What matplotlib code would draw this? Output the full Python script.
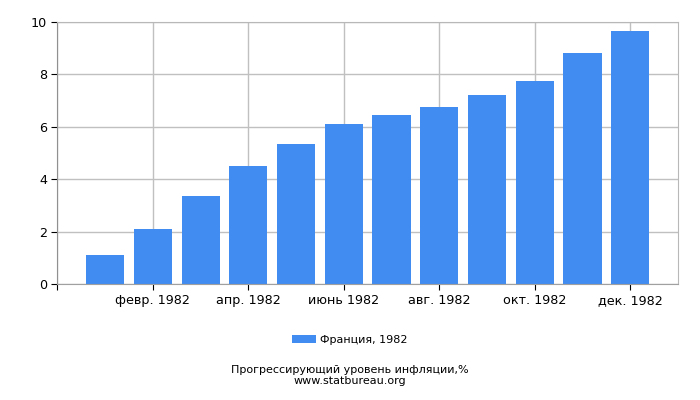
import numpy as np
import matplotlib
matplotlib.use("Agg")
from matplotlib import pyplot as plt

months = ["янв. 1982", "февр. 1982", "март 1982", "апр. 1982", "май 1982", "июнь 1982",
          "июль 1982", "авг. 1982", "сент. 1982", "окт. 1982", "нояб. 1982", "дек. 1982"]
values = [1.1, 2.1, 3.35, 4.5, 5.35, 6.1, 6.45, 6.75, 7.2, 7.75, 8.8, 9.65]
series_name = "Франция, 1982"
title = "Прогрессирующий уровень инфляции,%"
source = "www.statbureau.org"

plt.rcParams['font.family'] = ['DejaVu Sans']
fig = plt.figure(figsize=(7, 4), dpi=100)
ax = fig.add_axes([0.082, 0.29, 0.8866, 0.655])

x = np.arange(len(values))
ax.bar(x, values, width=0.8, color="#418cf0", label=series_name, zorder=2)

ax.set_xlim(-1, 12)
ax.set_ylim(0, 10)
ax.set_yticks([0, 2, 4, 6, 8, 10])
tick_pos = [-1] + list(x[1::2])
ax.set_xticks(tick_pos)
ax.set_xticklabels([""] + months[1::2])
ax.tick_params(labelsize=9.2, colors="black", length=4)
ax.grid(True, color="#c0c0c0", linewidth=1, zorder=0)
for s in ax.spines.values():
    s.set_color("#b8b8b8")
ax.spines["left"].set_color("#909090")
ax.spines["bottom"].set_color("#a0a0a0")

fig.legend(loc="center", bbox_to_anchor=(0.5, 0.15), frameon=False, fontsize=8,
           handlelength=2.1, handleheight=0.8, handletextpad=0.4)
fig.text(0.5, 0.075, title, ha="center", va="center", fontsize=8)
fig.text(0.5, 0.0475, source, ha="center", va="center", fontsize=8)

fig.savefig("out.png", dpi=100)
